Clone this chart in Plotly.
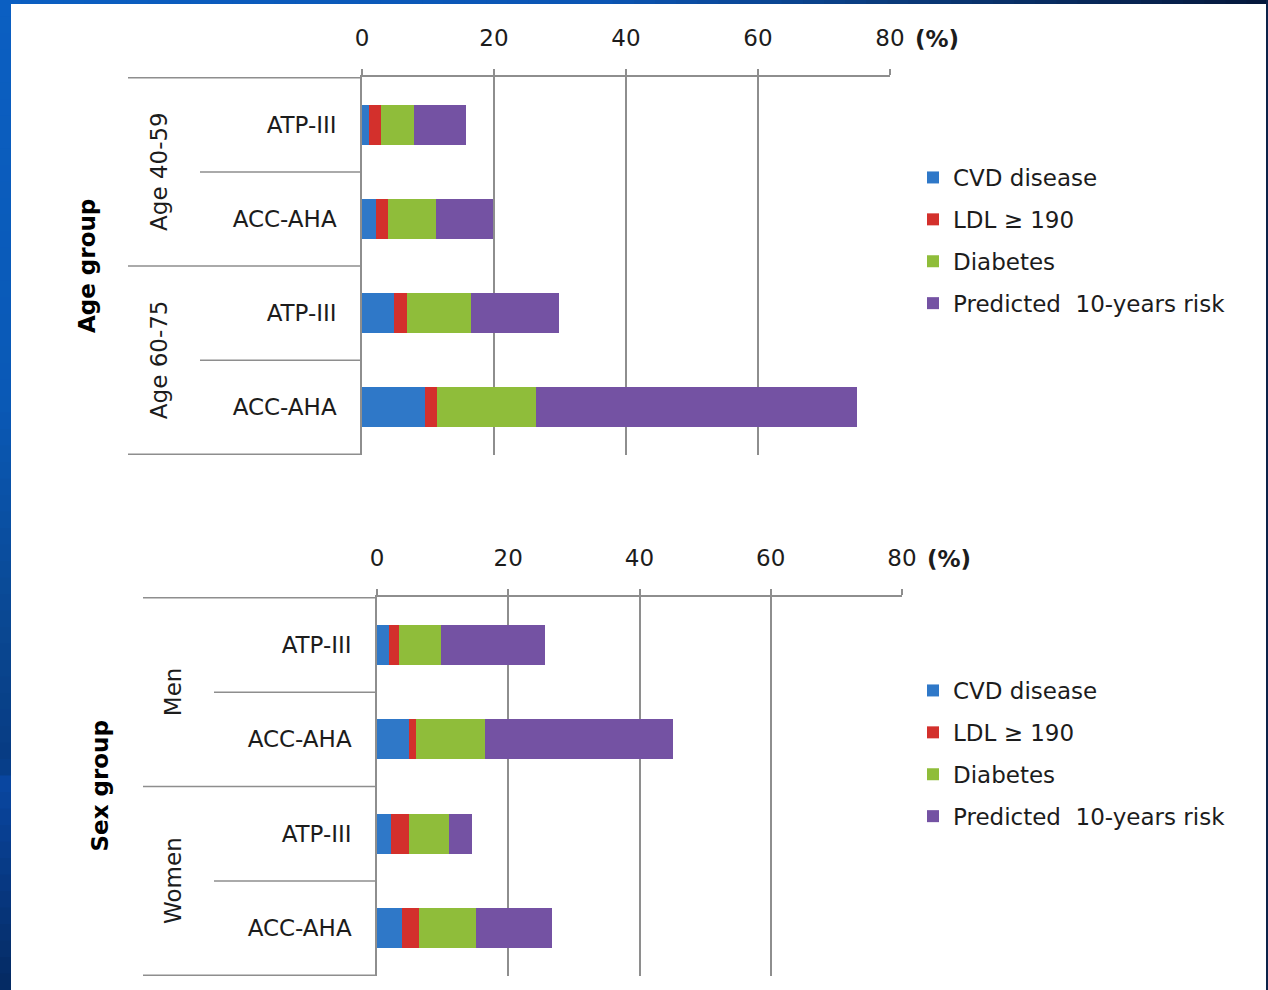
import plotly.graph_objects as go

# ---- data -------------------------------------------------------------
guidelines = ["ATP-III", "ACC-AHA", "ATP-III", "ACC-AHA"]

age_groups = ["Age 40-59", "Age 40-59", "Age 60-75", "Age 60-75"]
age_cvd = [1.1, 2.1, 4.8, 9.5]
age_ldl = [1.8, 1.9, 2.0, 1.9]
age_diab = [5.0, 7.2, 9.7, 15.0]
age_risk = [7.8, 8.6, 13.3, 48.6]

sex_groups = ["Men", "Men", "Women", "Women"]
sex_cvd = [1.9, 4.8, 2.2, 3.8]
sex_ldl = [1.4, 1.1, 2.6, 2.6]
sex_diab = [6.5, 10.6, 6.1, 8.7]
sex_risk = [15.8, 28.6, 3.6, 11.6]

series_names = ["CVD disease", "LDL \u2265 190", "Diabetes", "Predicted  10-years risk"]
series_colors = ["#2f78c8", "#d3302c", "#8fbd3a", "#7452a3"]
x_ticks = [0, 20, 40, 60, 80]

# ---- page geometry (pixels) ------------------------------------------
W, H = 1268, 990
FONT = "DejaVu Sans"
TXT = "#1c1c1c"
GRID = "#8e8e8e"


def px(x):
    return x / W


def py(y):
    return 1 - y / H


fig = go.Figure()

panels = [
    dict(groups=age_groups, vals=[age_cvd, age_ldl, age_diab, age_risk], ax="",
         legend="legend", box=(362, 890, 77, 455), outer=(128, 200), grp_x=159,
         title="Age group", title_x=87),
    dict(groups=sex_groups, vals=[sex_cvd, sex_ldl, sex_diab, sex_risk], ax="2",
         legend="legend2", box=(377, 902, 597, 976), outer=(143, 214), grp_x=173,
         title="Sex group", title_x=99),
]

shapes = []
annotations = []

for p in panels:
    keys = [f"{g}|{gl}" for g, gl in zip(p["groups"], guidelines)]
    xa = "x" + p["ax"]
    ya = "y" + p["ax"]
    for name, color, vals in zip(series_names, series_colors, p["vals"]):
        fig.add_trace(go.Bar(
            x=vals, y=keys, orientation="h", name=name,
            marker=dict(color=color, line=dict(width=0)),
            xaxis=xa, yaxis=ya, legend=p["legend"], legendgroup=name + p["ax"],
            hovertemplate="%{x}%<extra>" + name + "</extra>",
        ))

    x0, x1, y0, y1 = p["box"]
    fig.update_layout(**{
        "xaxis" + p["ax"]: dict(
            domain=[px(x0), px(x1)], range=[0, 80], side="top", anchor=ya,
            tickvals=x_ticks, ticktext=[str(t) for t in x_ticks],
            showgrid=True, gridcolor=GRID, gridwidth=1.5, zeroline=False,
            showline=True, linecolor=GRID, linewidth=1.5,
            ticks="outside", ticklen=6, tickcolor=GRID, tickwidth=1.5,
            ticklabelstandoff=14, automargin=False,
            tickfont=dict(family=FONT, size=23, color=TXT), fixedrange=True,
        ),
        "yaxis" + p["ax"]: dict(
            domain=[py(y1), py(y0)], anchor=xa, type="category",
            categoryorder="array", categoryarray=keys, autorange="reversed",
            tickvals=keys, ticktext=guidelines, ticks="", ticklabelstandoff=19,
            showgrid=False, zeroline=False, automargin=False,
            showline=True, linecolor=GRID, linewidth=1.5,
            tickfont=dict(family=FONT, size=23, color=TXT), fixedrange=True,
        ),
    })

    # category separators to the left of the plot
    outer_x, inner_x = p["outer"]
    for pos, left in [(-0.5, outer_x), (0.5, inner_x), (1.5, outer_x),
                      (2.5, inner_x), (3.5, outer_x)]:
        shapes.append(dict(type="line", xref="paper", yref=ya,
                           x0=px(left), x1=px(x0), y0=pos, y1=pos,
                           line=dict(color=GRID, width=1.5)))

    # outer group labels
    for i in (0, 2):
        annotations.append(dict(text=p["groups"][i], xref="paper", yref=ya,
                                x=px(p["grp_x"]), y=i + 0.5, textangle=-90,
                                showarrow=False, xanchor="center", yanchor="middle",
                                font=dict(family=FONT, size=23, color=TXT)))
    annotations.append(dict(text="<b>" + p["title"] + "</b>", xref="paper", yref=ya,
                            x=px(p["title_x"]), y=1.5, textangle=-90,
                            showarrow=False, xanchor="center", yanchor="middle",
                            font=dict(family=FONT, size=23, color="#000000")))
    # unit label next to the last tick
    annotations.append(dict(text="<b>(%)</b>", xref="paper", yref="paper",
                            x=px(x1 + 23), y=py(y0 - 38), xanchor="left",
                            yanchor="middle", showarrow=False,
                            font=dict(family=FONT, size=23, color=TXT)))

# ---- slide frame: blue gradient edges --------------------------------
def mix(c1, c2, t):
    a = [int(c1[i:i + 2], 16) for i in (1, 3, 5)]
    b = [int(c2[i:i + 2], 16) for i in (1, 3, 5)]
    return "#" + "".join(f"{round(u + (v - u) * t):02x}" for u, v in zip(a, b))


def grad(stops, pos):
    for (p0, c0), (p1, c1) in zip(stops, stops[1:]):
        if p0 <= pos <= p1:
            return mix(c0, c1, (pos - p0) / (p1 - p0) if p1 > p0 else 0)
    return stops[-1][1]


left_stops = [(0, "#0b5fc2"), (400, "#0a59b6"), (620, "#0a4893"),
              (765, "#073b82"), (775, "#0947a3"), (990, "#052a62")]
n = 60
for k in range(n):
    ya0, ya1 = k * H / n, (k + 1) * H / n
    shapes.append(dict(type="rect", xref="paper", yref="paper", layer="above",
                       x0=0, x1=px(11), y0=max(0, py(ya1 + 1)), y1=py(ya0),
                       fillcolor=grad(left_stops, (ya0 + ya1) / 2), line=dict(width=0)))

top_stops = [(0, "#0b5fc2"), (600, "#0b55b4"), (900, "#0a3a7a"), (1268, "#05173a")]
for k in range(n):
    xa0, xa1 = k * W / n, (k + 1) * W / n
    shapes.append(dict(type="rect", xref="paper", yref="paper", layer="above",
                       x0=px(xa0), x1=min(1, px(xa1 + 1)), y0=py(4), y1=1,
                       fillcolor=grad(top_stops, (xa0 + xa1) / 2), line=dict(width=0)))

shapes.append(dict(type="rect", xref="paper", yref="paper", layer="above",
                   x0=px(1266), x1=1, y0=0, y1=1,
                   fillcolor="#0c2249", line=dict(width=0)))

legend_style = dict(
    xanchor="left", yanchor="top", bgcolor="rgba(0,0,0,0)", borderwidth=0,
    font=dict(family=FONT, size=23, color=TXT), tracegroupgap=9,
    itemclick=False, itemdoubleclick=False,
)

fig.update_layout(
    width=W, height=H,
    margin=dict(l=0, r=0, t=0, b=0, pad=0, autoexpand=False),
    paper_bgcolor="#ffffff", plot_bgcolor="#ffffff",
    barmode="stack", bargap=0.58,
    showlegend=True,
    legend=dict(x=px(913), y=py(156), **legend_style),
    legend2=dict(x=px(913), y=py(669), **legend_style),
    shapes=shapes, annotations=annotations,
    font=dict(family=FONT, color=TXT),
)

fig.write_html("out.html", config={"displayModeBar": False})
